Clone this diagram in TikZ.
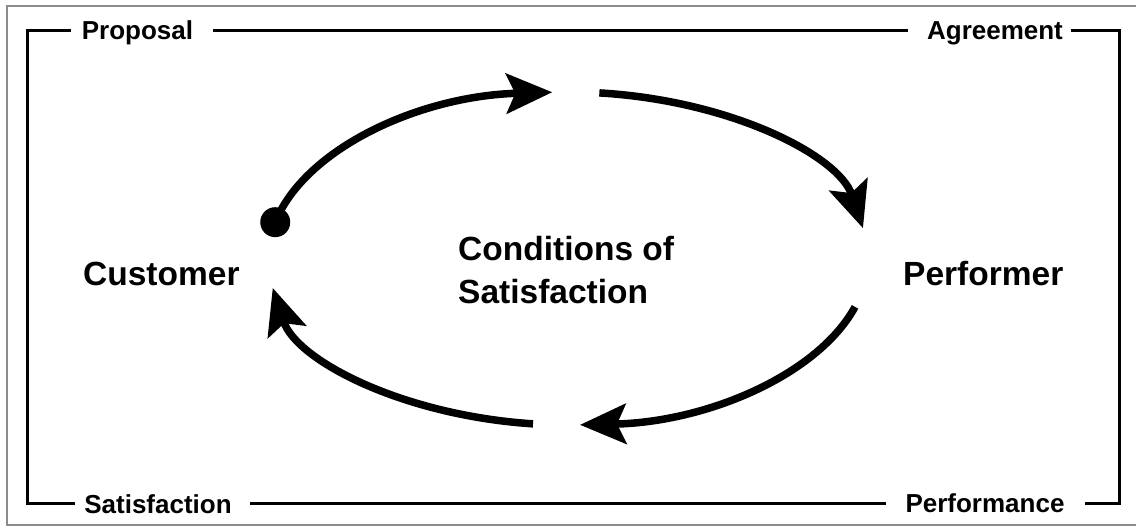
\documentclass[tikz,border=0pt]{standalone}
\usepackage{fontspec}
\setmainfont{Liberation Sans}
\usetikzlibrary{arrows.meta}
\begin{document}
\begin{tikzpicture}[x=1pt,y=1pt,
  bigtext/.style={font=\bfseries\fontsize{33.5}{40}\selectfont, inner sep=0pt},
  smalltext/.style={font=\bfseries\fontsize{26}{30}\selectfont, inner sep=0pt, anchor=base},
  frameline/.style={line width=3pt, line join=miter},
  outerline/.style={line width=1.5pt, draw=black!45},
  cyc/.style={line width=7.5pt, -{Stealth[length=46pt,width=40pt,inset=9pt]}},
  dotnode/.style={circle, fill=black, minimum size=30pt, inner sep=0pt},
]
\useasboundingbox (0,0) rectangle (1136,-527);
% outer thin frame
\draw[outerline] (1136,-6) -- (7,-6) -- (7,-525) -- (1136,-525);
% labels
\node[smalltext] (prop) at (137.5,-40) {Proposal};
\node[smalltext] (agr) at (995,-40) {Agreement};
\node[smalltext] (sat) at (158,-513) {Satisfaction};
\node[smalltext] (perfm) at (985,-512) {Performance};
% bracket frame
\draw[frameline] (71,-31) -- (27,-31) -- (27,-503) -- (75,-503);
\draw[frameline] (1071,-31) -- (1119,-31) -- (1119,-503) -- (1085,-503);
\draw[frameline] (213,-31) -- (908,-31);
\draw[frameline] (250,-503) -- (886,-503);
% main texts
\node[bigtext, anchor=base west] (cust) at (83,-285) {Customer};
\node[bigtext, anchor=base west] (perf) at (903,-285) {Performer};
\node[bigtext, anchor=base west] (cond1) at (458,-260) {Conditions of};
\node[bigtext, anchor=base west] (cond2) at (458,-303) {Satisfaction};
% cycle
\coordinate (c) at (568,-258.5);
\coordinate (d) at ([shift={(167.4:300 and 166.5)}]c);
\coordinate (s2) at ([shift={(84:300 and 166.5)}]c);
\coordinate (s3) at ([shift={(-16.9:300 and 166.5)}]c);
\coordinate (s4) at ([shift={(-96.7:300 and 166.5)}]c);
\draw[cyc] (d) arc[start angle=167.4, end angle=93, x radius=300, y radius=166.5];
\draw[cyc] (s2) arc[start angle=84, end angle=10.5, x radius=300, y radius=166.5];
\draw[cyc] (s3) arc[start angle=-16.9, end angle=-87.7, x radius=300, y radius=166.5];
\draw[cyc] (s4) arc[start angle=-96.7, end angle=-169.8, x radius=300, y radius=166.5];
\node[dotnode] (dot) at (d) {};
\end{tikzpicture}
\end{document}
